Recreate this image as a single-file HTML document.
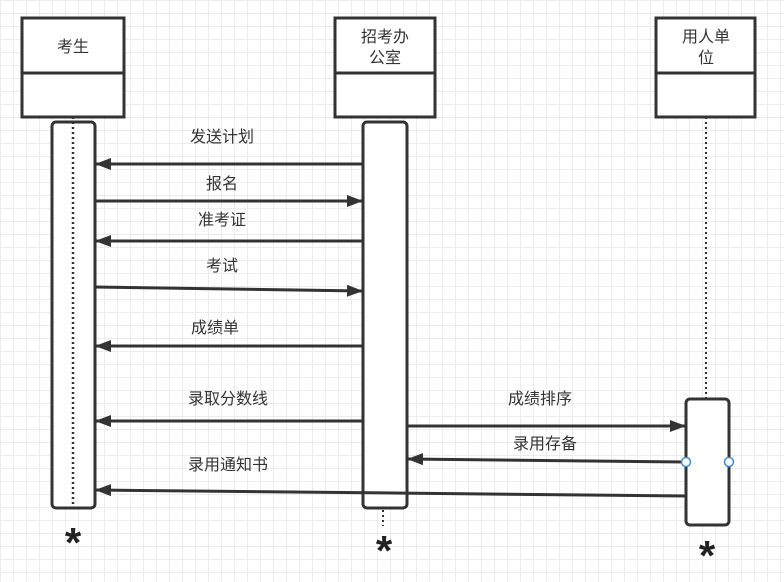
<!DOCTYPE html><html><head><meta charset="utf-8"><style>
body{margin:0;width:784px;height:577px;overflow:hidden;background:#fff;
background-image:linear-gradient(#ececec 1px,transparent 1px),linear-gradient(90deg,#ececec 1px,transparent 1px);background-size:13px 13px}
text{font-family:"Liberation Sans","Noto Sans CJK SC",sans-serif;font-size:16px;fill:#333}
</style></head><body>
<svg width="784" height="577" xmlns="http://www.w3.org/2000/svg">
<defs><marker id="a" markerWidth="16" markerHeight="12" refX="15" refY="6" orient="auto" markerUnits="userSpaceOnUse"><path d="M0,0 L16,6 L0,12 z" fill="#333"/></marker></defs>
<g stroke="#333" stroke-width="3" fill="#fff">
<rect x="22" y="18" width="102" height="55"/><rect x="22" y="73" width="102" height="44"/>
<rect x="335" y="18" width="100" height="55"/><rect x="335" y="73" width="100" height="44"/>
<rect x="656" y="18" width="99" height="55"/><rect x="656" y="73" width="99" height="44"/>
</g>
<g stroke="#333" stroke-width="2" stroke-dasharray="2,3">
<line x1="706" y1="117" x2="706" y2="398"/><line x1="383" y1="510" x2="383" y2="526"/>
</g>
<g stroke="#333" stroke-width="3" fill="#fff">
<rect x="52" y="122" width="43" height="386" rx="4"/>
<rect x="363" y="122" width="44" height="386" rx="4"/>
<rect x="686" y="399" width="43" height="126" rx="4"/>
</g>
<line x1="73" y1="117" x2="73" y2="508" stroke="#333" stroke-width="2.5" stroke-dasharray="2,3"/>
<g stroke="#333" stroke-width="3" marker-end="url(#a)">
<line x1="363" y1="164" x2="96" y2="164"/>
<line x1="95" y1="201" x2="362" y2="201"/>
<line x1="363" y1="241" x2="96" y2="241"/>
<line x1="95" y1="287" x2="362" y2="291"/>
<line x1="363" y1="346" x2="96" y2="346"/>
<line x1="363" y1="421" x2="96" y2="421"/>
<line x1="407" y1="426" x2="685" y2="426"/>
<line x1="686" y1="462" x2="408" y2="459"/>
<line x1="686" y1="496" x2="96" y2="490"/>
</g>
<circle cx="686" cy="462" r="4.5" fill="#fff" stroke="#3b8de0" stroke-width="1.5"/>
<circle cx="729" cy="462" r="4.5" fill="#fff" stroke="#3b8de0" stroke-width="1.5"/>
<g text-anchor="middle">
<text x="73" y="52">考生</text>
<text x="385" y="42">招考办</text><text x="385" y="63">公室</text>
<text x="706" y="42">用人单</text><text x="706" y="63">位</text>
<text x="222" y="142">发送计划</text>
<text x="222" y="189">报名</text>
<text x="222" y="225">准考证</text>
<text x="222" y="271">考试</text>
<text x="215" y="333">成绩单</text>
<text x="228" y="404">录取分数线</text>
<text x="540" y="404">成绩排序</text>
<text x="545" y="449">录用存备</text>
<text x="228" y="470">录用通知书</text>
<text x="73" y="557" style="font-size:42px;font-weight:bold;fill:#222">*</text>
<text x="384" y="565" style="font-size:42px;font-weight:bold;fill:#222">*</text>
<text x="707" y="570" style="font-size:42px;font-weight:bold;fill:#222">*</text>
</g>
</svg></body></html>
